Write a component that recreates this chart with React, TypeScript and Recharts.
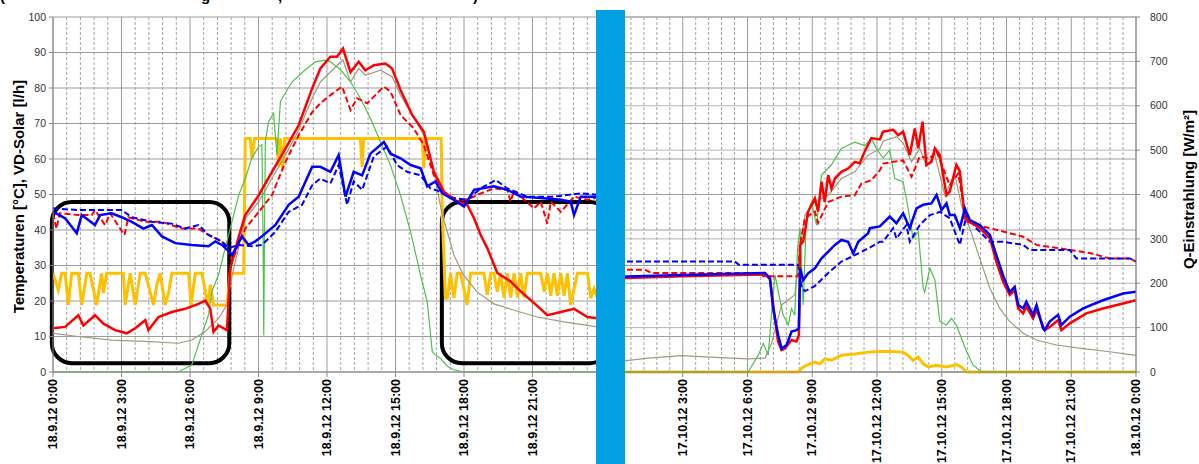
import { ComposedChart, Line, XAxis, YAxis, CartesianGrid, ReferenceArea } from 'recharts'

type Pt = [number, number]

// axis ticks
const SEP_HOURS = [0, 3, 6, 9, 12, 15, 18, 21]
const OCT_HOURS = [0, 3, 6, 9, 12, 15, 18, 21, 24]
const MAJOR_GRID = [0, 3, 6, 9, 12, 15, 18, 21, 24]
const TEMP_TICKS = [0, 10, 20, 30, 40, 50, 60, 70, 80, 90, 100]
const RAD_TICKS = [0, 100, 200, 300, 400, 500, 600, 700, 800]

// grid every 36 min between the 3h lines
const MINOR_GRID = Array.from({ length: 40 }, (_, i) => i)
  .filter((i) => i % 5 !== 0)
  .map((i) => i * 0.6)

// ---- 18.9.12 (hour, value) ----
const SEP_RED: Pt[] = [
  [0, 12.3], [0.53, 12.7], [1.11, 16.0], [1.33, 13.1], [1.84, 16.0], [2.21, 13.6], [2.72, 11.8],
  [3.23, 10.9], [3.6, 12.3], [4.04, 14.6], [4.18, 11.8], [4.62, 15.5], [5.2, 16.9], [5.79, 17.8],
  [6.37, 19.2], [6.67, 20.1], [6.89, 17.8], [7.03, 11.3], [7.25, 13.1], [7.62, 11.8], [7.76, 29.0],
  [8.13, 38.0], [8.42, 44.2], [9.01, 49.8], [9.59, 56.4], [10.18, 62.9], [10.76, 69.5], [11.35, 79.9],
  [11.71, 85.5], [12.15, 88.8], [12.44, 88.8], [12.7, 91.1], [13.03, 84.5], [13.39, 87.4], [13.68, 85.0],
  [14.05, 86.4], [14.56, 86.9], [14.85, 85.5], [15.22, 79.4], [15.73, 72.4], [16.24, 67.7], [16.68, 56.4],
  [17.12, 50.8], [17.7, 48.0], [18.14, 47.1], [18.44, 43.3], [18.73, 38.6], [19.02, 34.9], [19.46, 27.9],
  [20.04, 25.5], [20.48, 22.7], [21.07, 19.4], [21.65, 16.0], [22.24, 16.9], [22.82, 17.8], [23.41, 15.5],
  [24, 15.0],
]
const SEP_RED_DASH: Pt[] = [
  [0, 44.7], [0.15, 40.4], [0.3, 44.7], [1.11, 44.2], [1.7, 44.2], [1.84, 45.6], [2.28, 41.4], [2.5, 44.7],
  [3.13, 38.6], [3.3, 43.6], [4.04, 42.3], [4.77, 42.3], [5.64, 40.4], [6.37, 40.4], [6.81, 38.6],
  [7.4, 36.8], [7.62, 34.9], [7.84, 31.2], [8.42, 40.4], [9.01, 45.1], [9.59, 49.8], [10.18, 59.2],
  [10.76, 66.7], [11.35, 73.2], [11.71, 75.7], [12.15, 78.0], [12.66, 80.4], [13.03, 73.8], [13.32, 77.1],
  [13.76, 75.7], [14.49, 80.4], [14.78, 79.0], [15.22, 72.4], [15.8, 68.6], [16.24, 63.9], [16.68, 55.4],
  [17.12, 50.3], [17.7, 48.0], [18.29, 49.0], [18.73, 50.3], [19.31, 51.7], [19.9, 51.3], [20.04, 48.0],
  [20.19, 51.0], [20.48, 49.4], [21.07, 46.1], [21.36, 48.0], [21.65, 41.8], [21.8, 48.0], [22.24, 45.1],
  [22.82, 49.4], [23.41, 48.5], [24, 49.4],
]
const SEP_BLUE: Pt[] = [
  [0, 45.2], [0.53, 43.3], [1.04, 39.1], [1.26, 44.2], [1.84, 41.4], [2.06, 44.2], [2.57, 44.7],
  [3.01, 43.6], [3.45, 42.3], [3.96, 40.4], [4.33, 41.4], [4.77, 38.2], [5.36, 36.3], [6.08, 35.8],
  [6.81, 35.4], [7.11, 36.8], [7.4, 35.8], [7.62, 34.5], [7.84, 32.9], [8.27, 38.2], [8.57, 35.8],
  [8.86, 36.8], [9.15, 38.2], [9.74, 41.4], [10.32, 47.1], [10.76, 49.4], [11.05, 53.5], [11.35, 57.8],
  [11.71, 57.8], [12.15, 56.4], [12.51, 61.1], [12.81, 49.4], [13.17, 56.4], [13.54, 55.4], [13.9, 61.5],
  [14.49, 64.8], [14.78, 61.5], [15.22, 60.2], [15.66, 58.3], [16.1, 57.4], [16.39, 52.3], [16.75, 53.7],
  [17.05, 50.3], [17.56, 48.5], [18.0, 46.6], [18.44, 51.3], [19.31, 52.3], [19.9, 51.3], [20.48, 49.4],
  [21.36, 49.0], [22.24, 48.5], [22.67, 48.0], [22.82, 44.2], [23.11, 49.4], [23.84, 49.4], [24, 49.4],
]
const SEP_BLUE_DASH: Pt[] = [
  [0, 46.1], [1.11, 45.6], [3.01, 45.6], [3.45, 43.6], [4.33, 42.3], [5.2, 41.8], [5.79, 40.4],
  [6.37, 41.4], [6.81, 38.6], [7.4, 36.8], [7.69, 34.9], [8.13, 35.8], [8.71, 35.4], [9.15, 35.8],
  [9.74, 39.5], [10.32, 45.1], [10.91, 47.1], [11.35, 52.6], [11.71, 54.5], [12.15, 53.1], [12.51, 58.3],
  [12.88, 47.1], [13.17, 53.7], [13.54, 51.3], [14.05, 60.7], [14.63, 63.5], [15.07, 58.3], [15.51, 56.4],
  [16.1, 55.4], [16.53, 51.7], [16.97, 50.8], [17.56, 49.0], [18.14, 48.5], [18.73, 51.7], [19.39, 54.1],
  [19.9, 51.7], [20.77, 49.4], [21.94, 49.4], [23.11, 50.3], [24, 49.9],
]
const SEP_TAN: Pt[] = [
  [0, 10.9], [1.11, 10.0], [2.57, 9.0], [4.04, 8.6], [5.5, 8.1], [6.08, 9.0], [6.67, 11.4], [7.25, 15.1],
  [7.62, 18.9], [7.84, 27.0], [8.42, 43.3], [9.01, 47.9], [9.59, 54.5], [10.18, 61.1], [10.76, 68.1],
  [11.35, 77.1], [11.71, 81.7], [12.15, 84.5], [12.7, 87.9], [13.03, 81.7], [13.39, 85.5], [13.68, 83.6],
  [14.34, 85.0], [14.85, 83.2], [15.22, 78.0], [15.73, 72.4], [16.24, 66.7], [16.68, 56.4], [17.05, 44.2],
  [17.27, 39.5], [17.56, 32.9], [17.99, 27.2], [18.58, 22.5], [19.31, 19.2], [20.19, 17.4], [21.21, 15.5],
  [22.38, 14.1], [23.84, 12.7], [24, 12.6],
]
const SEP_FLOW: Pt[] = [
  [0, 27.8], [0.23, 23.1], [0.38, 27.8], [0.53, 27.8], [0.67, 18.9], [0.82, 27.8], [1.11, 27.8],
  [1.26, 18.9], [1.48, 27.8], [1.62, 27.8], [1.91, 18.9], [2.13, 27.8], [2.21, 22.2], [2.35, 27.8],
  [3.08, 27.8], [3.16, 18.9], [3.38, 27.8], [3.6, 18.9], [3.82, 27.8], [4.04, 27.8], [4.4, 18.9],
  [4.55, 24.6], [4.69, 27.8], [4.91, 18.9], [5.06, 22.2], [5.2, 27.8], [5.94, 27.8], [6.05, 18.9],
  [6.23, 27.8], [6.52, 27.8], [6.78, 18.9], [6.89, 24.6], [7.03, 18.9], [7.62, 18.9], [7.76, 27.8],
  [8.35, 27.8], [8.42, 65.8], [8.64, 65.8], [8.71, 60.2], [8.83, 65.8], [9.81, 65.8], [9.88, 58.0],
  [9.96, 65.8], [10.06, 57.0], [10.15, 65.8], [13.46, 65.8], [13.54, 57.8], [13.61, 65.8], [16.17, 65.8],
  [16.24, 57.4], [16.32, 65.8], [17.0, 65.8], [17.05, 44.0], [17.19, 20.8], [17.27, 20.8], [17.41, 27.8],
  [17.56, 20.8], [17.7, 27.8], [17.85, 27.8], [18.14, 18.9], [18.29, 27.8], [18.87, 27.8], [19.02, 21.7],
  [19.17, 27.8], [19.31, 27.8], [19.46, 22.6], [19.6, 27.8], [19.75, 21.0], [19.9, 27.8], [20.04, 21.0],
  [20.19, 27.8], [20.34, 21.0], [20.48, 27.8], [20.63, 21.0], [20.77, 27.8], [21.36, 27.8], [21.51, 22.6],
  [21.65, 27.8], [21.8, 21.5], [21.94, 27.8], [22.09, 21.5], [22.24, 27.8], [22.38, 21.5], [22.53, 27.8],
  [22.67, 18.9], [22.82, 23.5], [22.97, 27.8], [23.41, 27.8], [23.55, 20.8], [23.7, 23.5], [23.84, 20.8],
  [24, 23.0],
]
const SEP_SUN: Pt[] = [
  [0, 0], [5.5, 0], [6.08, 16], [6.52, 84], [6.81, 129], [6.96, 182], [7.25, 219], [7.54, 279],
  [7.84, 339], [8.13, 398], [8.42, 436], [8.71, 482], [9.01, 508], [9.15, 512], [9.2, 300], [9.23, 82],
  [9.26, 300], [9.3, 520], [9.44, 564], [9.66, 583], [9.81, 489], [9.96, 610], [10.47, 654], [11.05, 681],
  [11.49, 699], [11.93, 703], [12.15, 699], [12.59, 681], [13.03, 654], [13.46, 617], [13.9, 572],
  [14.34, 519], [14.78, 466], [15.22, 398], [15.66, 316], [16.1, 218], [16.39, 158], [16.61, 46],
  [16.75, 38], [16.97, 31], [17.27, 13], [17.56, 5], [17.99, 0], [24, 0],
]

// ---- 17.10.12 (hour, value) ----
const OCT_RED: Pt[] = [
  [0, 26.4], [3, 27.0], [6.81, 27.5], [7.04, 26.2], [7.27, 15.0], [7.42, 8.5], [7.58, 6.2], [7.73, 6.6],
  [8.04, 9.0], [8.27, 8.6], [8.38, 10.4], [8.44, 35.8], [8.58, 36.7], [8.81, 45.2], [9.12, 48.9],
  [9.27, 45.2], [9.43, 53.6], [9.58, 47.9], [9.74, 55.5], [9.89, 51.7], [10.05, 54.5], [10.35, 56.4],
  [10.66, 57.3], [10.97, 59.2], [11.2, 58.8], [11.43, 62.1], [11.74, 65.9], [12.13, 65.5], [12.28, 67.7],
  [12.75, 68.2], [12.98, 66.7], [13.21, 67.7], [13.52, 61.1], [13.75, 68.6], [13.91, 63.0], [14.11, 70.5],
  [14.29, 58.3], [14.52, 59.2], [14.68, 63.0], [14.91, 61.1], [15.22, 49.8], [15.37, 50.8], [15.68, 58.3],
  [15.84, 56.5], [16.07, 43.3], [16.76, 40.5], [17.23, 37.7], [17.53, 31.1], [17.84, 25.5], [18.15, 21.7],
  [18.38, 23.1], [18.54, 17.9], [18.77, 16.5], [18.92, 18.4], [19.23, 15.1], [19.39, 17.5], [19.77, 11.8],
  [20.0, 12.7], [20.39, 14.6], [20.54, 11.8], [20.93, 13.7], [21.7, 16.5], [22.47, 17.9], [23.4, 19.3],
  [24, 20.2],
]
const OCT_RED_DASH: Pt[] = [
  [0, 28.8], [1.25, 28.8], [1.56, 27.9], [6.65, 27.9], [6.73, 27.0], [8.35, 27.0], [8.43, 35.8],
  [8.66, 43.3], [9.12, 45.2], [9.27, 42.0], [9.74, 47.9], [10.35, 49.4], [10.97, 49.8], [11.28, 53.1],
  [11.74, 54.0], [12.13, 56.8], [12.28, 58.7], [12.75, 59.2], [13.21, 59.6], [13.6, 55.0], [13.98, 60.7],
  [14.45, 60.2], [14.76, 62.1], [15.37, 52.6], [15.76, 55.9], [16.15, 42.4], [16.61, 41.4], [17.23, 40.5],
  [18.15, 39.1], [18.77, 38.1], [19.39, 35.8], [20.93, 34.4], [21.86, 33.5], [22.78, 32.0], [23.71, 32.0],
  [24, 31.1],
]
const OCT_BLUE: Pt[] = [
  [0, 26.8], [3, 27.3], [6.81, 27.9], [7.04, 26.4], [7.19, 17.9], [7.42, 10.4], [7.58, 6.6], [7.81, 7.6],
  [8.04, 11.4], [8.27, 11.8], [8.38, 12.3], [8.44, 29.2], [8.58, 25.9], [8.81, 27.8], [9.12, 29.2],
  [9.43, 32.0], [9.74, 33.9], [10.05, 35.8], [10.35, 37.2], [10.66, 36.7], [10.9, 33.4], [11.13, 36.7],
  [11.59, 39.1], [11.67, 40.5], [12.13, 41.0], [12.59, 43.8], [12.9, 41.9], [13.21, 44.7], [13.52, 40.5],
  [13.83, 46.1], [14.14, 47.1], [14.52, 47.5], [14.76, 49.9], [14.99, 45.6], [15.22, 47.5], [15.37, 44.2],
  [15.6, 44.2], [15.84, 40.5], [16.07, 46.1], [16.3, 42.8], [16.76, 41.4], [17.23, 38.6], [17.53, 32.9],
  [17.84, 27.2], [18.15, 22.5], [18.38, 24.0], [18.54, 18.9], [18.77, 17.9], [18.92, 19.8], [19.23, 16.1],
  [19.39, 18.9], [19.69, 12.3], [19.77, 11.8], [20.0, 14.2], [20.39, 16.1], [20.54, 13.2], [20.93, 15.6],
  [21.55, 17.9], [22.47, 20.2], [23.4, 22.1], [24, 22.6],
]
const OCT_BLUE_DASH: Pt[] = [
  [0, 31.1], [5.42, 31.1], [5.6, 30.2], [8.35, 30.2], [8.5, 24.0], [8.66, 22.8], [9.12, 24.2],
  [9.74, 27.9], [10.35, 31.1], [10.97, 32.9], [11.59, 34.8], [12.13, 36.7], [12.28, 36.7], [12.75, 40.5],
  [12.9, 37.6], [13.36, 41.4], [13.52, 36.7], [13.98, 41.4], [14.45, 44.2], [14.91, 45.1], [15.37, 43.3],
  [15.84, 35.8], [16.15, 44.2], [16.61, 40.4], [17.23, 36.7], [17.84, 36.7], [18.77, 35.8], [19.08, 34.4],
  [20.93, 34.4], [21.24, 32.0], [23.71, 32.0], [24, 31.1],
]
const OCT_TAN: Pt[] = [
  [0, 2.9], [1.4, 3.9], [2.95, 4.6], [4.49, 4.1], [6.03, 3.7], [6.81, 3.9], [7.11, 8.0], [7.58, 18.9],
  [8.19, 21.7], [8.43, 34.8], [8.66, 44.2], [9.12, 47.9], [9.74, 49.8], [10.35, 54.5], [10.97, 56.4],
  [11.59, 61.1], [12.13, 62.9], [12.28, 65.0], [12.9, 66.3], [13.21, 64.5], [13.6, 59.2], [13.98, 63.0],
  [14.29, 58.0], [14.68, 61.1], [15.14, 49.8], [15.6, 55.9], [15.91, 47.0], [16.3, 40.5], [16.76, 32.0],
  [17.23, 23.6], [17.69, 17.9], [18.15, 14.2], [18.77, 10.9], [19.39, 9.0], [20.31, 7.6], [21.55, 6.6],
  [22.78, 5.7], [24, 4.7],
]
const OCT_FLOW: Pt[] = [
  [0, 0], [8.35, 0], [8.5, 1.0], [8.73, 1.9], [9.12, 2.8], [9.35, 2.3], [9.58, 3.7], [9.89, 3.3],
  [10.35, 4.7], [10.97, 5.1], [11.59, 5.6], [12.13, 5.8], [12.59, 5.8], [13.21, 5.6], [13.44, 4.7],
  [13.67, 3.3], [13.91, 4.2], [14.14, 2.3], [14.37, 1.4], [14.76, 1.9], [15.22, 1.4], [15.68, 2.1],
  [15.91, 1.4], [16.15, 0], [24, 0],
]
const OCT_SUN: Pt[] = [
  [0, 0], [6.03, 0], [6.5, 38], [6.73, 64], [6.96, 38], [7.11, 129], [7.27, 219], [7.42, 182],
  [7.65, 129], [7.89, 106], [8.04, 143], [8.19, 128], [8.32, 278], [8.43, 324], [8.58, 151], [8.73, 354],
  [8.97, 383], [9.2, 331], [9.43, 444], [9.89, 467], [10.35, 504], [10.66, 511], [10.97, 518], [11.43, 510],
  [11.74, 526], [11.97, 504], [12.28, 482], [12.59, 500], [12.82, 436], [13.21, 429], [13.44, 369],
  [13.67, 301], [13.91, 316], [14.14, 189], [14.21, 180], [14.45, 234], [14.68, 208], [14.91, 114],
  [15.22, 106], [15.45, 121], [15.68, 106], [16.15, 46], [16.45, 16], [16.84, 0], [24, 0],
]

const FONT = '"Liberation Sans", Arial, sans-serif'
const rows = (pts: Pt[]) => pts.map(([h, v]) => ({ h, v }))

const XTick = ({ x, y, payload, day }: any) => {
  const h = payload.value
  const label = h === 24 ? '18.10.12 0:00' : `${day} ${h}:00`
  return (
    <text
      x={x}
      y={y}
      transform={`rotate(-90 ${x} ${y})`}
      textAnchor="end"
      dominantBaseline="central"
      fontSize={12.5}
      fontWeight="bold"
      fontFamily={FONT}
      fill="#000"
    >
      {label}
    </text>
  )
}

const RoundBox = (p: any) => (
  <rect x={p.x} y={p.y} width={p.width} height={p.height} rx={20} ry={20} fill="none" stroke="#000" strokeWidth={4} />
)

const axisLabel = (text: string, dx: number, dy: number) => (props: any) => {
  const vb = props.viewBox
  const cx = vb.x + dx
  const cy = vb.y + vb.height / 2 + dy
  return (
    <text
      x={cx}
      y={cy}
      transform={`rotate(-90 ${cx} ${cy})`}
      textAnchor="middle"
      dominantBaseline="central"
      fontSize={15}
      fontWeight="bold"
      fontFamily={FONT}
      fill="#000"
    >
      {text}
    </text>
  )
}

const tickStyle = { fontSize: 10.5, fill: '#333', fontFamily: FONT }

function series(red: Pt[], redDash: Pt[], blue: Pt[], blueDash: Pt[], tan: Pt[], flow: Pt[], sun: Pt[]) {
  return [
    <Line key="flow" data={rows(flow)} dataKey="v" stroke="#FFC000" strokeWidth={3} dot={false} isAnimationActive={false} />,
    <Line key="tan" data={rows(tan)} dataKey="v" stroke="#A39A7C" strokeWidth={1.2} dot={false} isAnimationActive={false} />,
    <Line key="sun" yAxisId="r" data={rows(sun)} dataKey="v" stroke="#4CC24C" strokeWidth={1.2} dot={false} isAnimationActive={false} />,
    <Line key="rd" data={rows(redDash)} dataKey="v" stroke="#FF0000" strokeWidth={2} strokeDasharray="6 3" dot={false} isAnimationActive={false} />,
    <Line key="bd" data={rows(blueDash)} dataKey="v" stroke="#0000FF" strokeWidth={2} strokeDasharray="6 3" dot={false} isAnimationActive={false} />,
    <Line key="r" data={rows(red)} dataKey="v" stroke="#FF0000" strokeWidth={2.5} dot={false} isAnimationActive={false} />,
    <Line key="b" data={rows(blue)} dataKey="v" stroke="#0000FF" strokeWidth={2.5} dot={false} isAnimationActive={false} />,
  ]
}

export default function App() {
  return (
    <div style={{ position: 'absolute', left: 0, top: 0, width: 1199, height: 464, overflow: 'hidden', background: '#fff', fontFamily: FONT }}>
      {/* caption above the chart, cut off by the picture's top edge */}
      <div style={{ position: 'absolute', top: -12, left: 0, width: 1199, height: 20, fontSize: 15, fontWeight: 'bold', lineHeight: '15px' }}>
        <span style={{ position: 'absolute', left: 0 }}>(</span>
        <span style={{ position: 'absolute', left: 201 }}>g</span>
        <span style={{ position: 'absolute', left: 278 }}>,</span>
        <span style={{ position: 'absolute', left: 473 }}>)</span>
      </div>

      <div style={{ position: 'absolute', left: 0, top: 0 }}>
        <ComposedChart width={601} height={464} margin={{ top: 17, right: 0, bottom: 0, left: 0 }}>
          <CartesianGrid horizontal={false} verticalValues={MINOR_GRID} stroke="#a4a4a4" strokeDasharray="3 2" />
          <CartesianGrid verticalValues={MAJOR_GRID} horizontalValues={TEMP_TICKS} stroke="#9c9c9c" />
          <XAxis
            dataKey="h"
            type="number"
            domain={[0, 24]}
            ticks={SEP_HOURS}
            interval={0}
            allowDataOverflow
            height={92}
            tickSize={5}
            tickMargin={2}
            stroke="#868686"
            tick={<XTick day="18.9.12" />}
          />
          <YAxis
            domain={[0, 100]}
            ticks={TEMP_TICKS}
            interval={0}
            width={53}
            tickSize={4}
            tickMargin={3}
            stroke="#868686"
            tick={tickStyle}
            label={{ content: axisLabel('Temperaturen [°C], VD-Solar [l/h]', 18, 2) }}
          />
          <YAxis yAxisId="r" orientation="right" hide domain={[0, 800]} />
          <ReferenceArea x1={-0.05} x2={7.72} y1={2.5} y2={47.9} ifOverflow="visible" shape={RoundBox} />
          <ReferenceArea x1={17.03} x2={24.4} y1={2.5} y2={47.9} ifOverflow="visible" shape={RoundBox} />
          {series(SEP_RED, SEP_RED_DASH, SEP_BLUE, SEP_BLUE_DASH, SEP_TAN, SEP_FLOW, SEP_SUN)}
        </ComposedChart>
      </div>

      <div style={{ position: 'absolute', left: 600, top: 0 }}>
        <ComposedChart width={599} height={464} margin={{ top: 17, right: 0, bottom: 0, left: 18 }}>
          <CartesianGrid horizontal={false} verticalValues={MINOR_GRID} stroke="#a4a4a4" strokeDasharray="3 2" />
          <CartesianGrid vertical={false} yAxisId="r" horizontalValues={RAD_TICKS} stroke="#b4b4b4" />
          <CartesianGrid verticalValues={MAJOR_GRID} horizontalValues={TEMP_TICKS} stroke="#9c9c9c" />
          <XAxis
            dataKey="h"
            type="number"
            domain={[0, 24]}
            ticks={OCT_HOURS}
            interval={0}
            allowDataOverflow
            height={92}
            tickSize={5}
            tickMargin={2}
            stroke="#868686"
            tick={<XTick day="17.10.12" />}
          />
          <YAxis domain={[0, 100]} hide />
          <YAxis
            yAxisId="r"
            orientation="right"
            domain={[0, 800]}
            ticks={RAD_TICKS}
            interval={0}
            width={63}
            tickSize={4}
            tickMargin={10}
            stroke="#868686"
            tick={{ ...tickStyle, textAnchor: 'start' }}
            label={{ content: axisLabel('Q-Einstrahlung [W/m²]', 52, -5) }}
          />
          {series(OCT_RED, OCT_RED_DASH, OCT_BLUE, OCT_BLUE_DASH, OCT_TAN, OCT_FLOW, OCT_SUN)}
        </ComposedChart>
      </div>

      <div style={{ position: 'absolute', left: 596, top: 10, width: 29, height: 454, background: '#00A0E3', zIndex: 5 }} />
    </div>
  )
}
